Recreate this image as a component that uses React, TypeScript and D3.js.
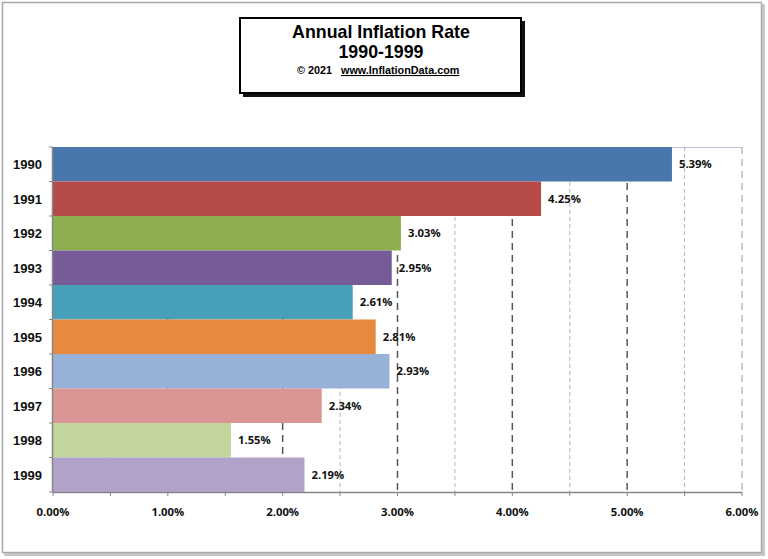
import React from "react";
import * as d3 from "d3";

const years = ["1990", "1991", "1992", "1993", "1994", "1995", "1996", "1997", "1998", "1999"];
const rates = [5.39, 4.25, 3.03, 2.95, 2.61, 2.81, 2.93, 2.34, 1.55, 2.19];
const barColors = ["#4A76AE", "#B54A47", "#8FAE50", "#765C97", "#45A0B8", "#E88A3E", "#97B1D9", "#DA9594", "#C3D69B", "#B0A2C8"];
const majorTicks = [0, 1, 2, 3, 4, 5, 6];
const minorTicks = [0.5, 1.5, 2.5, 3.5, 4.5, 5.5];
const titleLines = ["Annual Inflation  Rate", "1990-1999"];
const copyright = "© 2021";
const site = "www.InflationData.com";

const W = 768, H = 559;
const left = 53, right = 742, top = 147, bottom = 492;

export default function App() {
  const x = d3.scaleLinear().domain([0, 6]).range([left, right]);
  const y = d3.scaleBand().domain(years).range([top, bottom]).padding(0);
  const allTicks = d3.range(0, 6.01, 0.5);
  const labelFont = "'Open Sans', 'DejaVu Sans', sans-serif";
  return (
    <svg width={W} height={H} style={{ position: "absolute", left: 0, top: 0 }} fontFamily="Arial, 'Liberation Sans', sans-serif">
      <rect x={0} y={0} width={W} height={H} fill="#fff" />
      {/* outer frame with shadow */}
      <rect x={4} y={4} width={761} height={552} fill="#c8c8c8" />
      <rect x={2.5} y={2.5} width={759} height={550} fill="#fff" stroke="#a9a9a9" strokeWidth={1.5} />
      {/* title box */}
      <rect x={243} y={21} width={282} height={76} fill="#111" />
      <rect x={240} y={18} width={281} height={75} fill="#fff" stroke="#000" strokeWidth={2} />
      <text x={381} y={38} textAnchor="middle" fontWeight="bold" fontSize={17.8}>{titleLines[0]}</text>
      <text x={381} y={58} textAnchor="middle" fontWeight="bold" fontSize={17.8}>{titleLines[1]}</text>
      <text x={297} y={74} fontWeight="bold" fontSize={10.8}>{copyright}</text>
      <text x={341} y={74} fontWeight="bold" fontSize={10.8} textDecoration="underline">{site}</text>
      {/* top plot border */}
      <line x1={left} x2={right} y1={top + 0.5} y2={top + 0.5} stroke="#b9c3d6" strokeWidth={1} />
      {/* minor grid */}
      {minorTicks.map((t) => (
        <line key={"mi" + t} x1={x(t)} x2={x(t)} y1={top} y2={bottom} stroke="#b5b5b5" strokeWidth={1} strokeDasharray="4,3" />
      ))}
      {/* major grid */}
      {majorTicks.filter((t) => t > 0).map((t) => (
        <line key={"ma" + t} x1={x(t)} x2={x(t)} y1={top} y2={bottom} stroke={t === 6 ? "#9a9a9a" : "#555"} strokeWidth={t === 6 ? 1 : 1.5} strokeDasharray="7,5" />
      ))}
      {/* bars */}
      {years.map((yr, i) => (
        <rect key={yr} x={x(0)} y={y(yr)!} width={x(rates[i]) - x(0)} height={y.bandwidth()} fill={barColors[i]} />
      ))}
      {/* value labels */}
      {years.map((yr, i) => (
        <text key={"v" + yr} x={x(rates[i]) + 7} y={y(yr)! + y.bandwidth() / 2 + 4} fontSize={11.3} fontWeight="bold" fontFamily={labelFont} fill="#111">
          {rates[i].toFixed(2) + "%"}
        </text>
      ))}
      {/* axes */}
      <line x1={left} x2={right} y1={bottom + 0.5} y2={bottom + 0.5} stroke="#868686" strokeWidth={1.5} />
      {allTicks.map((t) => (
        <line key={"xt" + t} x1={x(t)} x2={x(t)} y1={bottom} y2={bottom + 4} stroke="#868686" />
      ))}
      <line x1={left - 0.5} x2={left - 0.5} y1={top} y2={bottom} stroke="#868686" strokeWidth={1.5} />
      {d3.range(0, years.length + 1).map((k) => (
        <line key={"yt" + k} x1={left - 4} x2={left} y1={top + k * y.step()} y2={top + k * y.step()} stroke="#868686" />
      ))}
      {majorTicks.map((t) => (
        <text key={"xl" + t} x={x(t)} y={bottom + 24} textAnchor="middle" fontSize={11.3} fontWeight="bold" fontFamily={labelFont} fill="#111">
          {t.toFixed(2) + "%"}
        </text>
      ))}
      {years.map((yr) => (
        <text key={"yl" + yr} x={left - 11} y={y(yr)! + y.bandwidth() / 2 + 5} textAnchor="end" fontSize={13} fontWeight="bold" fill="#111">
          {yr}
        </text>
      ))}
    </svg>
  );
}
